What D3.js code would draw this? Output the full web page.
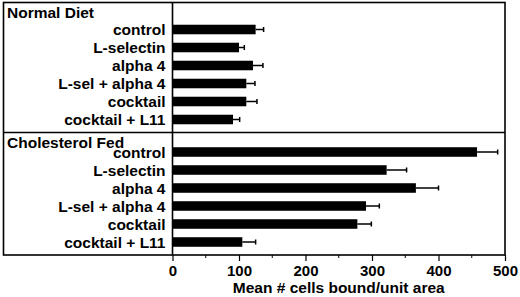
<!DOCTYPE html>
<html lang="en">
<head>
<meta charset="utf-8">
<script src="https://d3js.org/d3.v7.min.js"></script>
<style>
  body { margin: 0; background: #fff; }
  text { font-family: "Liberation Sans", Arial, Helvetica, sans-serif; font-weight: bold; fill: #000; }
</style>
</head>
<body>
<div id="chart"></div>
<script>
// treatments, same for both panels
var categories = ["control", "L-selectin", "alpha 4", "L-sel + alpha 4", "cocktail", "cocktail + L11"];
var panelTitles = ["Normal Diet", "Cholesterol Fed"];

// mean and top of error bar
var normalMean = [125, 100, 121, 111, 111, 91];
var normalErr  = [137, 108, 136, 124, 127, 101];
var cholMean   = [458, 322, 366, 291, 278, 105];
var cholErr    = [489, 352, 400, 311, 299, 125];

var xTicks = [0, 100, 200, 300, 400, 500];
var xMinorTicks = [50, 150, 250, 350, 450];
var xTitle = "Mean # cells bound/unit area";

var width = 520, height = 297;
// frame edges (note: "top" is reserved on window, so use frameTop)
var frameLeft = 3.5, plotLeft = 172.5, frameRight = 505, frameTop = 2.5, divide = 132.5, frameBottom = 255;

var svg = d3.select("#chart").append("svg")
  .attr("width", width)
  .attr("height", height);

var x = d3.scaleLinear().domain([0, 500]).range([plotLeft, frameRight]);

var panels = [
  { title: panelTitles[0], mean: normalMean, err: normalErr, y0: frameTop, y1: divide },
  { title: panelTitles[1], mean: cholMean, err: cholErr, y0: divide, y1: frameBottom }
];

panels.forEach(function(p) {
  var y = d3.scaleBand().domain(categories)
    .range([p.y1 - 4 - 18 * categories.length, p.y1 - 4])
    .paddingInner(0.47).paddingOuter(0.235);

  var g = svg.append("g");
  var rows = categories.map(function(c, i) { return { cat: c, mean: p.mean[i], err: p.err[i] }; });

  g.selectAll("rect").data(rows).enter().append("rect")
    .attr("x", x(0))
    .attr("y", function(d) { return y(d.cat); })
    .attr("width", function(d) { return x(d.mean) - x(0); })
    .attr("height", y.bandwidth())
    .attr("fill", "#000");

  // error bars
  g.selectAll("line.err").data(rows).enter().append("line")
    .attr("class", "err")
    .attr("x1", function(d) { return x(d.mean); })
    .attr("x2", function(d) { return x(d.err); })
    .attr("y1", function(d) { return y(d.cat) + y.bandwidth() / 2; })
    .attr("y2", function(d) { return y(d.cat) + y.bandwidth() / 2; })
    .attr("stroke", "#000").attr("stroke-width", 1.5);
  g.selectAll("line.cap").data(rows).enter().append("line")
    .attr("class", "cap")
    .attr("x1", function(d) { return x(d.err); })
    .attr("x2", function(d) { return x(d.err); })
    .attr("y1", function(d) { return y(d.cat) + y.bandwidth() / 2 - 2.5; })
    .attr("y2", function(d) { return y(d.cat) + y.bandwidth() / 2 + 2.5; })
    .attr("stroke", "#000").attr("stroke-width", 1.5);

  g.selectAll("text.lab").data(rows).enter().append("text")
    .attr("class", "lab")
    .attr("x", plotLeft - 7)
    .attr("y", function(d) { return y(d.cat) + y.bandwidth() / 2; })
    .attr("dy", "0.37em")
    .attr("text-anchor", "end")
    .attr("font-size", 15.5)
    .text(function(d) { return d.cat; });

  g.append("text")
    .attr("x", frameLeft + 3.5)
    .attr("y", p.y0 + 15.5)
    .attr("font-size", 15.5)
    .text(p.title);
});

// frame
var frame = svg.append("g").attr("fill", "none").attr("stroke", "#000").attr("stroke-width", 1.6);
frame.append("rect").attr("x", frameLeft).attr("y", frameTop)
  .attr("width", frameRight - frameLeft).attr("height", frameBottom - frameTop);
frame.append("line").attr("x1", frameLeft).attr("x2", frameRight).attr("y1", divide).attr("y2", divide);
frame.append("line").attr("x1", plotLeft).attr("x2", plotLeft).attr("y1", frameTop).attr("y2", frameBottom);

// x axis
var axis = svg.append("g").attr("transform", "translate(0," + frameBottom + ")")
  .call(d3.axisBottom(x).tickValues(xTicks).tickSize(6).tickPadding(4).tickFormat(d3.format("d")));
axis.select(".domain").remove();
axis.selectAll(".tick line").attr("stroke-width", 1.2);
axis.selectAll(".tick text").attr("font-size", 15).attr("font-family", null);

svg.append("g").selectAll("line").data(xMinorTicks).enter().append("line")
  .attr("x1", function(d) { return x(d); }).attr("x2", function(d) { return x(d); })
  .attr("y1", frameBottom).attr("y2", frameBottom + 3)
  .attr("stroke", "#000").attr("stroke-width", 1);

svg.append("text")
  .attr("x", (plotLeft + frameRight) / 2)
  .attr("y", 293)
  .attr("text-anchor", "middle")
  .attr("font-size", 15.5)
  .text(xTitle);
</script>
</body>
</html>
